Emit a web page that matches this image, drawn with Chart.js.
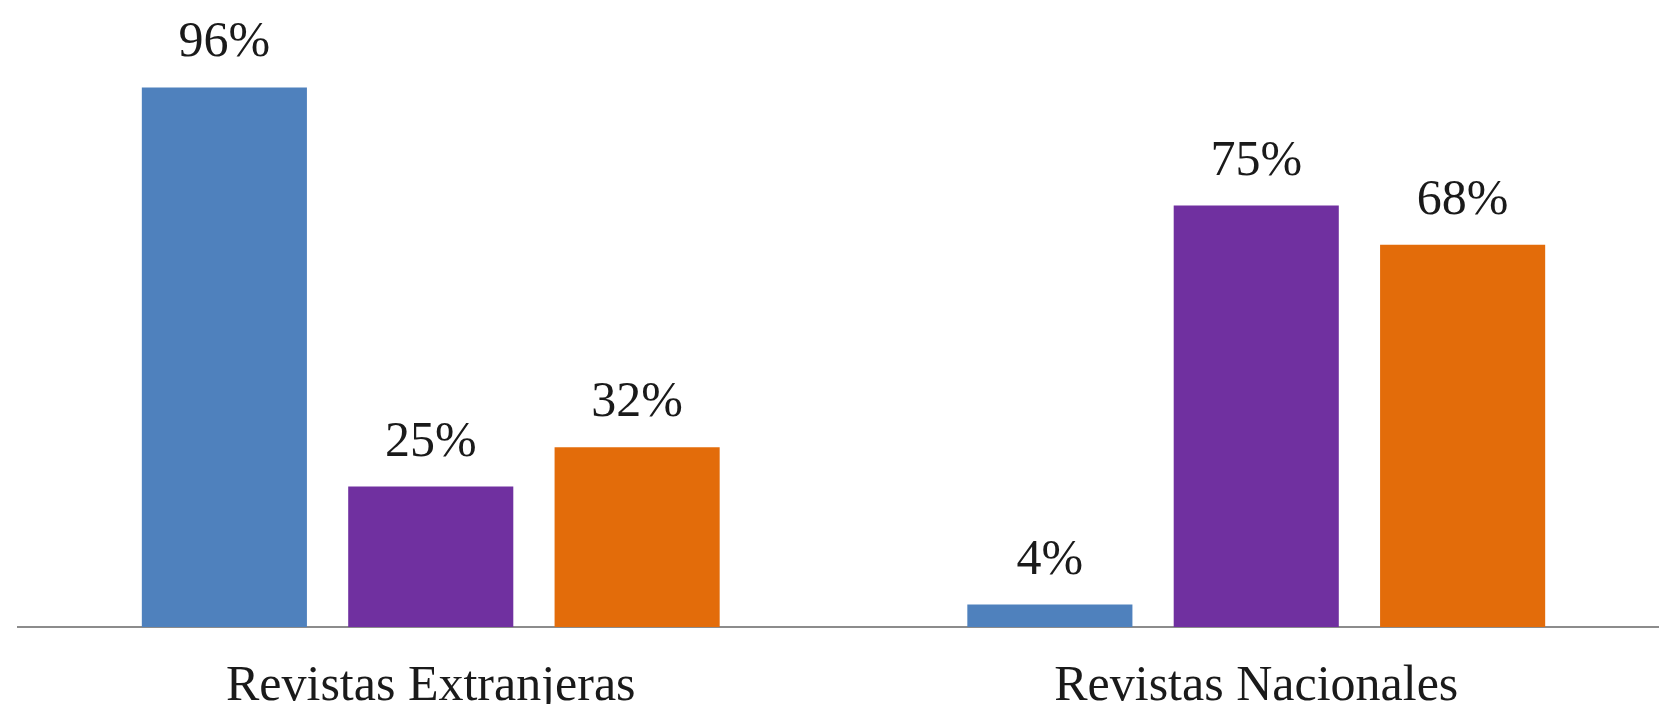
<!DOCTYPE html>
<html>
<head>
<meta charset="utf-8">
<script src="https://cdn.jsdelivr.net/npm/chart.js@4.4.1/dist/chart.umd.min.js"></script>
<style>
  html, body { margin: 0; padding: 0; background: #fff; overflow: hidden; }
  #wrap { width: 1670px; height: 747px; }
</style>
</head>
<body>
<div id="wrap"><canvas id="myChart"></canvas></div>
<script>
const labels = ['Revistas Extranjeras', 'Revistas Nacionales'];
const serieA = [96, 4];
const serieB = [25, 75];
const serieC = [32, 68];

// draws the "96%" labels above each bar
const valueLabels = {
    id: 'valueLabels',
    afterDatasetsDraw(chart) {
        const ctx = chart.ctx;
        ctx.save();
        ctx.font = '50px "Liberation Serif", "Times New Roman", serif';
        ctx.fillStyle = '#1a1a1a';
        ctx.textAlign = 'center';
        ctx.textBaseline = 'alphabetic';
        chart.data.datasets.forEach((ds, i) => {
            chart.getDatasetMeta(i).data.forEach((bar, j) => {
                ctx.fillText(ds.data[j] + '%', bar.x, bar.y - 31);
            });
        });
        ctx.restore();
    }
};

var ctx = document.getElementById('myChart').getContext('2d');
var myChart = new Chart(ctx, {
    type: 'bar',
    data: {
        labels: labels,
        datasets: [
            { label: 'A', backgroundColor: '#4F81BD', data: serieA },
            { label: 'B', backgroundColor: '#7030A0', data: serieB },
            { label: 'C', backgroundColor: '#E36C0A', data: serieC }
        ]
    },
    options: {
        responsive: true,
        maintainAspectRatio: false,
        animation: false,
        layout: { padding: { top: 65, left: 18, right: 1, bottom: 0 } },
        datasets: { bar: { barPercentage: 0.8, categoryPercentage: 0.75 } },
        plugins: { legend: { display: false }, tooltip: { enabled: false } },
        scales: {
            y: { display: false, min: 0, max: 100 },
            x: {
                grid: { display: false, drawTicks: false },
                border: { display: true, color: '#8c8c8c', width: 2 },
                ticks: {
                    color: '#1a1a1a',
                    padding: 30,
                    font: { family: '"Liberation Serif", "Times New Roman", serif', size: 50 }
                }
            }
        }
    },
    plugins: [valueLabels]
});
</script>
</body>
</html>
